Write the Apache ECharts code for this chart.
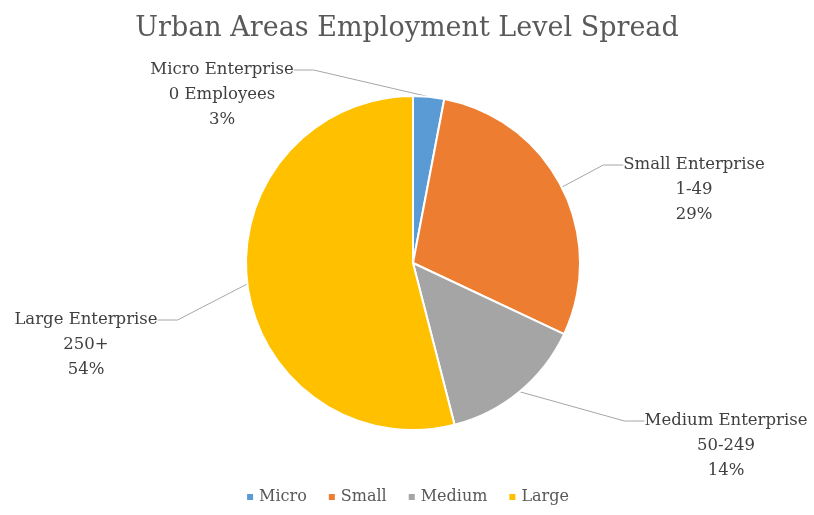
<!DOCTYPE html>
<html>
<head>
<meta charset="utf-8">
<script src="https://cdn.jsdelivr.net/npm/echarts@6/dist/echarts.min.js"></script>
<style>html,body{margin:0;padding:0;background:#fff}#c{width:814px;height:515px}</style>
</head>
<body>
<div id="c"></div>
<script>
const categories = ['Micro', 'Small', 'Medium', 'Large'];
const labelNames = ['Micro Enterprise', 'Small Enterprise', 'Medium Enterprise', 'Large Enterprise'];
const ranges = ['0 Employees', '1-49', '50-249', '250+'];
const values = [3, 29, 14, 54];
const colors = ['#5B9BD5', '#ED7D31', '#A5A5A5', '#FFC000'];

// first-line centre of each label block
const labelPos = [
  { x: 222, y: 70 },
  { x: 694, y: 165 },
  { x: 726, y: 421 },
  { x: 86, y: 320 }
];
const LH = 25;
const FONT = 'DejaVu Serif';

const chart = echarts.init(document.getElementById('c'));
chart.setOption({
  animation: false,
  title: {
    text: 'Urban Areas Employment Level Spread',
    left: 'center',
    top: 10,
    textStyle: { fontFamily: FONT, fontWeight: 'normal', fontSize: 27, color: '#595959' }
  },
  legend: {
    bottom: 5,
    left: 'center',
    itemWidth: 8,
    itemHeight: 8,
    itemGap: 20,
    icon: 'rect',
    textStyle: { fontFamily: FONT, fontSize: 16, color: '#595959' },
    data: categories.map((c, i) => ({ name: c, itemStyle: { color: colors[i] } }))
  },
  series: [{
    type: 'pie',
    center: [413, 263],
    radius: [0, 167],
    startAngle: 90,
    clockwise: true,
    itemStyle: { borderColor: '#fff', borderWidth: 2 },
    emphasis: { disabled: true },
    data: categories.map((c, i) => ({
      name: c,
      value: values[i],
      itemStyle: { color: colors[i] },
      label: { formatter: labelNames[i] }
    })),
    label: {
      show: true,
      fontFamily: FONT,
      fontSize: 16.5,
      lineHeight: LH,
      color: '#404040',
      align: 'center'
    },
    labelLine: {
      show: true,
      length: 20,
      length2: 20,
      lineStyle: { color: '#A6A6A6', width: 1 }
    },
    labelLayout: function (params) {
      const p = labelPos[params.dataIndex];
      return { x: p.x, y: p.y, align: 'center', verticalAlign: 'middle' };
    }
  }, {
    type: 'pie',
    center: [413, 263],
    radius: [0, 167],
    startAngle: 90,
    clockwise: true,
    silent: true,
    itemStyle: { color: 'rgba(0,0,0,0)', borderWidth: 0 },
    emphasis: { disabled: true },
    data: categories.map((c, i) => ({
      name: c,
      value: values[i],
      label: { formatter: ranges[i] + '\n' + values[i] + '%' }
    })),
    label: {
      show: true,
      fontFamily: FONT,
      fontSize: 16.5,
      lineHeight: LH,
      color: '#404040',
      align: 'center'
    },
    labelLine: { show: false },
    labelLayout: function (params) {
      const p = labelPos[params.dataIndex];
      return { x: p.x, y: p.y + LH * 1.5, align: 'center', verticalAlign: 'middle' };
    }
  }]
});
</script>
</body>
</html>
